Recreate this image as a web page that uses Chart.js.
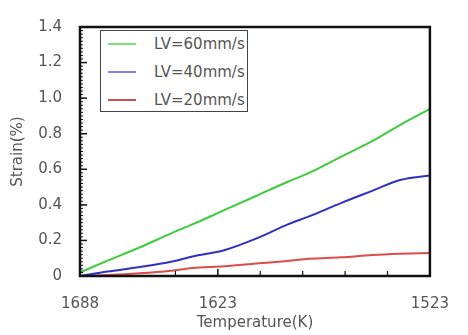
<!DOCTYPE html>
<html>
<head>
<meta charset="utf-8">
<script src="https://cdn.jsdelivr.net/npm/chart.js@4.4.0/dist/chart.umd.min.js"></script>
<style>
    body { margin: 0; background: #fff; }
    #wrap { position: relative; width: 468px; height: 335px; }
    #legend {
        position: absolute; left: 100px; top: 30px; width: 146px; height: 80px;
        border: 1.5px solid #444; background: #fff;
        font-family: 'DejaVu Sans', sans-serif; font-size: 15px; color: #555;
    }
    .item { position: absolute; left: 0; height: 20px; display: flex; align-items: center; white-space: nowrap; }
    .swatch { width: 28px; height: 2px; margin-left: 7px; margin-right: 18px; }
</style>
</head>
<body>
<div id="wrap">
    <canvas id="strainChart" width="468" height="335"></canvas>
    <div id="legend"></div>
</div>
<script>
// 데이터
const temps = [1688, 1675, 1660, 1645, 1635, 1620, 1605, 1590, 1580, 1565, 1550, 1537, 1523];
const strain60 = [0.02, 0.086, 0.16, 0.24, 0.29, 0.37, 0.45, 0.53, 0.58, 0.67, 0.76, 0.85, 0.94];
const strain40 = [0, 0.025, 0.05, 0.08, 0.11, 0.145, 0.21, 0.29, 0.335, 0.41, 0.48, 0.54, 0.565];
const strain20 = [0, 0.005, 0.015, 0.03, 0.045, 0.055, 0.07, 0.085, 0.097, 0.105, 0.118, 0.125, 0.13];

const seriesLabels = ['LV=60mm/s', 'LV=40mm/s', 'LV=20mm/s'];
const xLabelTicks = [1688, 1623, 1523];
const xMinorTicks = [1643, 1603, 1583, 1563, 1543];
const yTicks = [0, 0.2, 0.4, 0.6, 0.8, 1.0, 1.2, 1.4];
const yMinorStep = 0.02;

const lineColors = ['#3ccc3c', '#3030c8', '#dd4c4c'];
const legendColors = ['#7be07b', '#7f7fe8', '#c85050'];

Chart.defaults.font.family = "'DejaVu Sans', sans-serif";
Chart.defaults.font.size = 15;
Chart.defaults.color = '#555';

const toPoints = (vals) => vals.map((v, i) => ({ x: temps[i], y: v }));

// 테두리와 안쪽 눈금
const frameAndTicks = {
    id: 'frameAndTicks',
    afterDatasetsDraw(chart) {
        const { ctx, chartArea: a, scales: { x, y } } = chart;
        const seg = (x1, y1, x2, y2) => { ctx.beginPath(); ctx.moveTo(x1, y1); ctx.lineTo(x2, y2); ctx.stroke(); };
        ctx.save();
        ctx.strokeStyle = '#111';
        ctx.lineWidth = 1;
        const yMax = yTicks[yTicks.length - 1];
        for (let k = 0; k * yMinorStep <= yMax + 1e-9; k++) {
            const py = y.getPixelForValue(k * yMinorStep);
            seg(a.left, py, a.left + 3, py);
        }
        ctx.lineWidth = 1.5;
        yTicks.forEach(v => { const py = y.getPixelForValue(v); seg(a.left, py, a.left + 7, py); });
        ctx.lineWidth = 1.2;
        xMinorTicks.forEach(v => { const px = x.getPixelForValue(v); seg(px, a.bottom, px, a.bottom - 5); });
        ctx.lineWidth = 1.5;
        xLabelTicks.forEach(v => { const px = x.getPixelForValue(v); seg(px, a.bottom, px, a.bottom - 7); });
        ctx.lineWidth = 2.5;
        ctx.strokeRect(a.left, a.top, a.right - a.left, a.bottom - a.top);
        ctx.restore();
    }
};

const chart = new Chart(document.getElementById('strainChart').getContext('2d'), {
    type: 'line',
    data: {
        datasets: [strain60, strain40, strain20].map((vals, i) => ({
            label: seriesLabels[i],
            data: toPoints(vals),
            borderColor: lineColors[i],
            backgroundColor: lineColors[i],
            borderWidth: 2,
            pointRadius: 0,
            cubicInterpolationMode: 'monotone',
            fill: false
        }))
    },
    options: {
        responsive: false,
        animation: false,
        layout: { padding: { left: 9, top: 16, right: 26, bottom: 3 } },
        plugins: { legend: { display: false }, tooltip: { enabled: false } },
        scales: {
            x: {
                type: 'linear',
                reverse: true,
                min: 1523,
                max: 1688,
                afterBuildTicks: scale => { scale.ticks = xLabelTicks.map(v => ({ value: v })); },
                afterFit: scale => { scale.height = 56; },
                ticks: { padding: 19, maxRotation: 0, autoSkip: false, callback: v => String(v) },
                grid: { display: false, drawTicks: false },
                border: { display: false },
                title: { display: true, text: 'Temperature(K)', padding: 0 }
            },
            y: {
                min: 0,
                max: 1.4,
                afterBuildTicks: scale => { scale.ticks = yTicks.map(v => ({ value: v })); },
                afterFit: scale => { scale.width = 71; },
                ticks: { padding: 18, callback: v => v === 0 ? '0' : v.toFixed(1) },
                grid: { display: false, drawTicks: false },
                border: { display: false },
                title: { display: true, text: 'Strain(%)', padding: 0 }
            }
        }
    },
    plugins: [frameAndTicks]
});

// 범례 (그래프 안쪽 상자)
const legendEl = document.getElementById('legend');
chart.data.datasets.forEach((ds, i) => {
    const item = document.createElement('div');
    item.className = 'item';
    item.style.top = (3 + i * 28) + 'px';
    item.innerHTML = `<span class="swatch" style="background:${legendColors[i]}"></span><span>${ds.label}</span>`;
    legendEl.appendChild(item);
});
</script>
</body>
</html>
